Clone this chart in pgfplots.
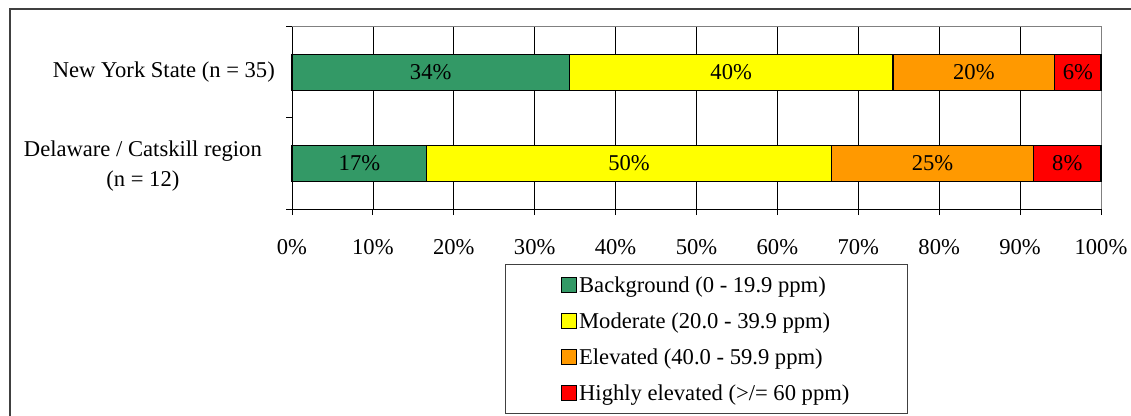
\documentclass[border=0pt]{standalone}
\usepackage{pgfplots}
\pgfplotsset{compat=1.18}
\usepackage{fontspec}
\setmainfont{Liberation Serif}
\definecolor{cgreen}{HTML}{339966}
\definecolor{cyellow}{HTML}{FFFF00}
\definecolor{corange}{HTML}{FF9900}
\definecolor{cred}{HTML}{FF0000}
\begin{document}
\fontsize{22.6bp}{30bp}\selectfont
\begin{tikzpicture}
\path[use as bounding box] (0,0) rectangle (1131bp,416bp);
\draw[line width=2bp, black!75] (10bp,0) -- (10bp,407bp) -- (1131bp,407bp);
\begin{axis}[
  at={(292bp,207bp)}, anchor=south west,
  scale only axis, width=809bp, height=182bp,
  xbar stacked, bar width=36bp,
  xmin=0, xmax=100, ymin=-0.5, ymax=1.5,
  axis x line*=bottom, axis y line*=left,
  axis line style={line width=1bp, black},
  tick align=outside, major tick length=6bp,
  tick style={line width=1bp, black},
  /pgf/number format/assume math mode=true,
  xtick={0,10,...,100},
  xticklabels={0\%,10\%,20\%,30\%,40\%,50\%,60\%,70\%,80\%,90\%,100\%},
  xticklabel style={anchor=base, yshift=-39bp, inner sep=0pt},
  ytick={-0.5,0.5,1.5}, yticklabels={},
  extra y ticks={0,1},
  extra y tick labels={{\rule{0pt}{21.6bp}Delaware / Catskill region\hspace*{13bp}\\(n = 12)\hspace*{13bp}},{New York State (n = 35)}},
  extra y tick style={major tick length=0pt, yticklabel style={align=center, anchor=east, inner sep=0pt, xshift=-17bp}},
  xmajorgrids, grid style={line width=0.8bp, black},
  every axis plot/.append style={draw=black, line width=1.2bp},
  visualization depends on={rawx \as \rawx},
  nodes near coords={\pgfmathprintnumber[fixed,precision=0]{\rawx}\%},
  every node near coord/.append style={anchor=center, inner sep=0pt},
  legend style={at={(0.5124,-0.302)}, anchor=north, draw=black!75, line width=1bp,
    inner xsep=56bp, inner ysep=8.7bp, row sep=12bp, cells={anchor=base west},
    nodes={inner xsep=2.5bp, inner ysep=0pt, text height=19bp, text depth=5bp}},
  legend image code/.code={\draw[#1,draw=black,line width=1bp] (0bp,0bp) rectangle (14.5bp,14.5bp);},
  clip=false,
]
\addplot[fill=cgreen] coordinates {(34.2857,1) (16.6667,0)};
\addplot[fill=cyellow] coordinates {(40,1) (50,0)};
\addplot[fill=corange] coordinates {(20,1) (25,0)};
\addplot[fill=cred] coordinates {(5.7143,1) (8.3333,0)};
\legend{Background (0 - 19.9 ppm),Moderate (20.0 - 39.9 ppm),Elevated (40.0 - 59.9 ppm),Highly elevated (>/= 60 ppm)}
\draw[line width=1bp, black!50] (rel axis cs:0,1) -- (rel axis cs:1,1) -- (rel axis cs:1,0);
\end{axis}
\end{tikzpicture}
\end{document}
